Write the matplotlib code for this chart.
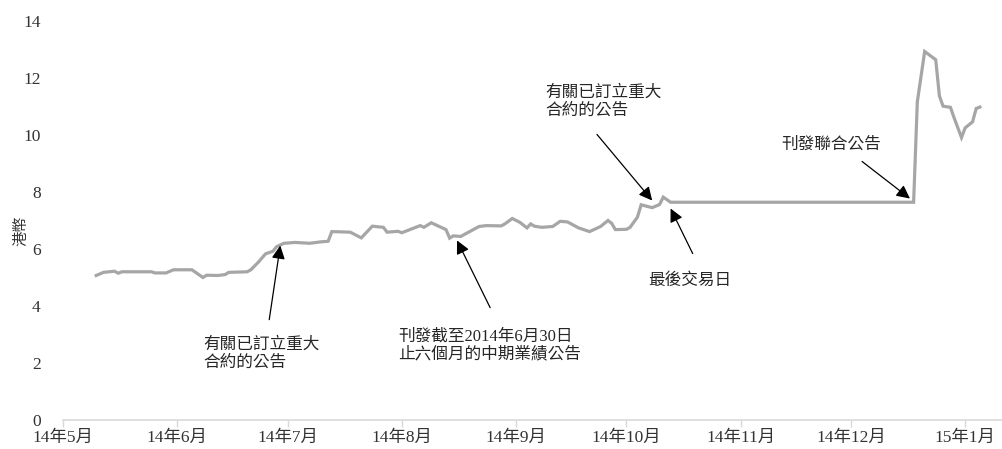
import matplotlib
matplotlib.use('Agg')
import matplotlib.pyplot as plt
import pandas as pd

plt.rcParams['font.family'] = ['Liberation Serif', 'Noto Sans CJK TC']

# share price (HK$)
dates = pd.to_datetime([
    '2014-05-10', '2014-05-12', '2014-05-15', '2014-05-16', '2014-05-17',
    '2014-05-25', '2014-05-26', '2014-05-29', '2014-05-31', '2014-06-05',
    '2014-06-08', '2014-06-09', '2014-06-12', '2014-06-14', '2014-06-15',
    '2014-06-20', '2014-06-21', '2014-06-23', '2014-06-25', '2014-06-27',
    '2014-06-28', '2014-06-30', '2014-07-03', '2014-07-07', '2014-07-10',
    '2014-07-12', '2014-07-13', '2014-07-18', '2014-07-21', '2014-07-24',
    '2014-07-27', '2014-07-28', '2014-07-31', '2014-08-01', '2014-08-06',
    '2014-08-07', '2014-08-09', '2014-08-13', '2014-08-14', '2014-08-15',
    '2014-08-17', '2014-08-20', '2014-08-22', '2014-08-24', '2014-08-28',
    '2014-08-29', '2014-08-31', '2014-09-02', '2014-09-04', '2014-09-05',
    '2014-09-06', '2014-09-08', '2014-09-11', '2014-09-13', '2014-09-15',
    '2014-09-18', '2014-09-21', '2014-09-24', '2014-09-26', '2014-09-27',
    '2014-09-28', '2014-10-01', '2014-10-02', '2014-10-04', '2014-10-05',
    '2014-10-08', '2014-10-10', '2014-10-11', '2014-10-13', '2014-12-18',
    '2014-12-19', '2014-12-21', '2014-12-24', '2014-12-25', '2014-12-26',
    '2014-12-28', '2014-12-29', '2014-12-31', '2015-01-01', '2015-01-03',
    '2015-01-04', '2015-01-05',
])
prices = [
    5.07, 5.18, 5.22, 5.15, 5.20,
    5.20, 5.16, 5.16, 5.27, 5.27,
    5.00, 5.08, 5.07, 5.10, 5.18,
    5.20, 5.27, 5.53, 5.83, 5.92,
    6.08, 6.20, 6.23, 6.20, 6.25,
    6.27, 6.61, 6.59, 6.39, 6.80,
    6.76, 6.59, 6.62, 6.57, 6.82,
    6.76, 6.92, 6.68, 6.38, 6.46,
    6.44, 6.65, 6.79, 6.82, 6.81,
    6.88, 7.07, 6.94, 6.74, 6.88,
    6.80, 6.76, 6.79, 6.97, 6.95,
    6.74, 6.61, 6.79, 7.00, 6.90,
    6.68, 6.69, 6.76, 7.12, 7.55,
    7.45, 7.56, 7.82, 7.64, 7.64,
    11.16, 12.93, 12.64, 11.37, 11.01,
    10.97, 10.60, 9.91, 10.25, 10.46,
    10.93, 10.98,
]

# annotations: text, text position, arrow tail, arrow head
notes = ['有關已訂立重大\n合約的公告',
         '刊發截至2014年6月30日\n止六個月的中期業績公告',
         '有關已訂立重大\n合約的公告',
         '最後交易日',
         '刊發聯合公告']
note_text_x = pd.to_datetime(['2014-06-08', '2014-07-31', '2014-09-09', '2014-10-07', '2014-11-12'])
note_text_y = [2.92, 3.20, 11.75, 4.89, 9.67]
note_tail_x = pd.to_datetime(['2014-06-26', '2014-08-25', '2014-09-23', '2014-10-19', '2014-12-04'])
note_tail_y = [3.52, 3.94, 10.02, 5.84, 9.07]
note_head_x = pd.to_datetime(['2014-06-29', '2014-08-16', '2014-10-08', '2014-10-13', '2014-12-17'])
note_head_y = [6.12, 6.30, 7.70, 7.42, 7.77]

fig = plt.figure(figsize=(10.02, 4.49), dpi=100)
ax = fig.add_axes([0.0629, 0.0646, 0.9371, 0.8887])

ax.plot(dates, prices, color='#a6a6a6', lw=2.3, solid_joinstyle='miter')

for i in range(len(notes)):
    va = 'center' if '\n' not in notes[i] else 'top'
    ax.text(note_text_x[i], note_text_y[i], notes[i], fontsize=12, va=va, ha='left',
            color='#262626', linespacing=1.15)
    ax.annotate('', xy=(note_head_x[i], note_head_y[i]),
                xytext=(note_tail_x[i], note_tail_y[i]),
                arrowprops=dict(arrowstyle='-|>', color='black', lw=0.9,
                                mutation_scale=20, shrinkA=0, shrinkB=0))

ax.set_ylim(0, 14)
ax.set_yticks(range(0, 15, 2))
ax.set_xlim(pd.Timestamp('2014-05-01'), pd.Timestamp('2015-01-11'))

months = pd.date_range('2014-05-01', '2015-01-01', freq='MS')
ax.set_xticks(months)
ax.set_xticklabels([f'{d.year % 100}年{d.month}月' for d in months])

for s in ['top', 'right', 'left']:
    ax.spines[s].set_visible(False)
ax.spines['bottom'].set_color('#d9d9d9')
ax.spines['bottom'].set_linewidth(1.2)
ax.tick_params(axis='x', colors='#d9d9d9', labelcolor='#333333', length=5, width=1,
               labelsize=12.5, pad=2)
ax.tick_params(axis='y', length=0, labelcolor='#333333', labelsize=12.5, pad=16)

fig.text(21 / 1002, 1 - 231 / 449, '港幣', family=['Noto Sans CJK TC'], fontsize=11,
         color='#333333', rotation=90, ha='center', va='center')

fig.savefig('out.png', dpi=100)
